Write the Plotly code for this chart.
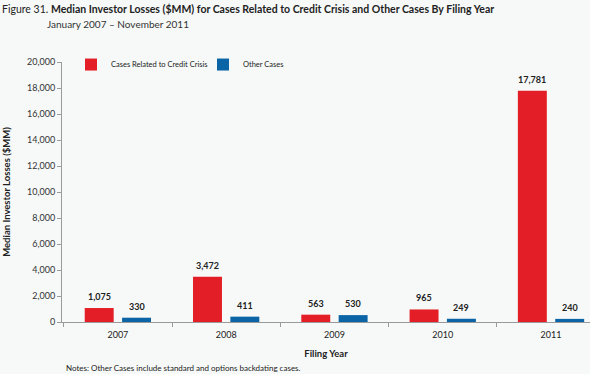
import plotly.graph_objects as go

years = ["2007", "2008", "2009", "2010", "2011"]
credit_crisis = [1075, 3472, 563, 965, 17781]
other_cases = [330, 411, 530, 249, 240]
y_ticks = [0, 2000, 4000, 6000, 8000, 10000, 12000, 14000, 16000, 18000, 20000]

RED = "#E31E26"
BLUE = "#0B64A6"
BG = "#F6F9F8"
FONT = "Lato, Open Sans, sans-serif"

fig = go.Figure()
fig.add_trace(go.Bar(x=years, y=credit_crisis, name="Cases Related to Credit Crisis",
                     marker=dict(color=RED, line=dict(width=0))))
fig.add_trace(go.Bar(x=years, y=other_cases, name="Other Cases",
                     marker=dict(color=BLUE, line=dict(width=0))))

SHIFT = 18.7
for i, yr in enumerate(years):
    for vals, sh in ((credit_crisis, -SHIFT), (other_cases, SHIFT)):
        fig.add_annotation(x=i, y=vals[i], text=f"<b>{vals[i]:,}</b>", showarrow=False,
                           xref="x", yref="y", xshift=sh, yshift=4, yanchor="bottom",
                           font=dict(family=FONT, size=9, color="#222222"))

fig.add_annotation(xref="paper", yref="paper", x=-62/528, y=1 + (62 - 9) / 260, xanchor="left", yanchor="middle",
                   text="Figure 31. <b>Median Investor Losses ($MM) for Cases Related to Credit Crisis and Other Cases By Filing Year</b>",
                   showarrow=False, font=dict(family=FONT, size=10.5, color="#222222"))
fig.add_annotation(xref="paper", yref="paper", x=-17/528, y=1 + (62 - 24) / 260, xanchor="left", yanchor="middle",
                   text="January 2007 – November 2011",
                   showarrow=False, font=dict(family=FONT, size=10, color="#333333"))
fig.add_annotation(xref="paper", yref="paper", x=2/528, y=-(368 - 322) / 260, xanchor="left", yanchor="middle",
                   text="Notes: Other Cases include standard and options backdating cases.",
                   showarrow=False, font=dict(family=FONT, size=8, color="#222222"))

fig.update_layout(
    width=590, height=374,
    margin=dict(l=62, r=0, t=62, b=52),
    paper_bgcolor=BG, plot_bgcolor=BG,
    barmode="group", bargap=0.31, bargroupgap=0.225,
    font=dict(family=FONT, size=9, color="#333333"),
    showlegend=True,
    legend=dict(orientation="h", x=0.017, y=1.046, xanchor="left", yanchor="top",
                bgcolor="rgba(0,0,0,0)", font=dict(family=FONT, size=7.5, color="#222222"),
                entrywidth=87, entrywidthmode="pixels", itemwidth=30, tracegroupgap=0),
    xaxis=dict(type="category", range=[-0.516, 4.36], showgrid=False, zeroline=False, automargin=False,
               showline=True, linecolor="#9a9a9a", linewidth=1,
               ticks="outside", tickson="boundaries", ticklen=4, tickcolor="#9a9a9a",
               ticklabelstandoff=4,
               tickfont=dict(family=FONT, size=9, color="#222222"),
               title=dict(text="<b>Filing Year</b>", font=dict(family=FONT, size=9.5, color="#222222"), standoff=11)),
    yaxis=dict(range=[0, 20000], tickvals=y_ticks, tickformat=",d", showgrid=False, zeroline=False, automargin=False,
               showline=True, linecolor="#9a9a9a", linewidth=1,
               ticks="outside", ticklen=4, tickcolor="#9a9a9a",
               tickfont=dict(family=FONT, size=9, color="#333333"),
               title=dict(text="<b>Median Investor Losses ($MM)</b>", font=dict(family=FONT, size=9.5, color="#222222"), standoff=14)),
)

fig.write_html("out.html", config={"displayModeBar": False},
               post_script="document.body.style.margin='0';")
